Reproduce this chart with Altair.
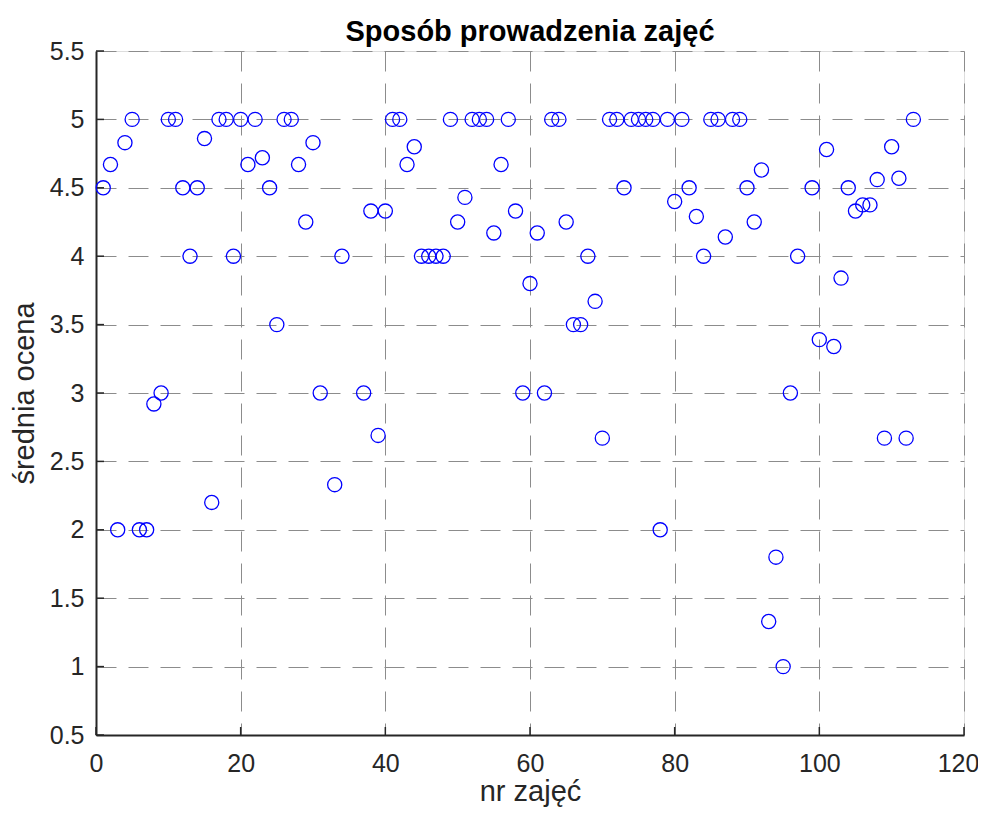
import altair as alt
import pandas as pd

# lecture number (nr zajęć)
nr = [1, 2, 3, 4, 5, 6, 7, 8, 9, 10, 11, 12, 13, 14, 15, 16, 17, 18, 19, 20,
      21, 22, 23, 24, 25, 26, 27, 28, 29, 30, 31, 33, 34, 37, 38, 39, 40, 41, 42, 43,
      44, 45, 46, 47, 48, 49, 50, 51, 52, 53, 54, 55, 56, 57, 58, 59, 60, 61, 62, 63,
      64, 65, 66, 67, 68, 69, 70, 71, 72, 73, 74, 75, 76, 77, 78, 79, 80, 81, 82, 83,
      84, 85, 86, 87, 88, 89, 90, 91, 92, 93, 94, 95, 96, 97, 99, 100, 101, 102, 103, 104,
      105, 106, 107, 108, 109, 110, 111, 112, 113]
# average grade (średnia ocena)
ocena = [4.5, 4.67, 2.0, 4.83, 5, 2, 2, 2.92, 3, 5, 5, 4.5, 4, 4.5, 4.86, 2.2, 5, 5, 4, 5,
         4.67, 5, 4.72, 4.5, 3.5, 5, 5, 4.67, 4.25, 4.83, 3, 2.33, 4, 3, 4.33, 2.69, 4.33, 5, 5, 4.67,
         4.8, 4, 4, 4, 4, 5, 4.25, 4.43, 5, 5, 5, 4.17, 4.67, 5, 4.33, 3, 3.8, 4.17, 3, 5,
         5, 4.25, 3.5, 3.5, 4, 3.67, 2.67, 5, 5, 4.5, 5, 5, 5, 5, 2, 5, 4.4, 5, 4.5, 4.29,
         4, 5, 5, 4.14, 5, 5, 4.5, 4.25, 4.63, 1.33, 1.8, 1, 3, 4, 4.5, 3.39, 4.78, 3.34, 3.84, 4.5,
         4.33, 4.375, 4.375, 4.56, 2.67, 4.8, 4.57, 2.67, 5]

x_ticks = [0, 20, 40, 60, 80, 100, 120]
y_ticks = [0.5, 1, 1.5, 2, 2.5, 3, 3.5, 4, 4.5, 5, 5.5]
title_text = ["Sposób prowadzenia zajęć"]

df = pd.DataFrame({"nr": nr, "ocena": ocena})
dfy = pd.DataFrame({"yt": y_ticks})
dfx = pd.DataFrame({"xt": x_ticks})
dft = pd.DataFrame({"t": title_text})

FONT = "Liberation Sans"
AXIS_COL = "#262626"
GRID_COL = "#8c8c8c"

xscale = alt.Scale(domain=[0, 120], nice=False, zero=False)
yscale = alt.Scale(domain=[0.5, 5.5], nice=False, zero=False)

xaxis = alt.Axis(
    values=x_ticks, title="nr zajęć", grid=True, gridColor=GRID_COL, gridDash=[20, 12],
    gridWidth=1, domainColor=AXIS_COL, domainWidth=2, ticks=False, labelFont=FONT,
    labelFontSize=25, labelColor=AXIS_COL, labelPadding=16, labelBaseline="top",
    labelOffset={"condition": {"test": "datum.value === 120", "value": -6}, "value": 0},
    titleFont=FONT, titleFontSize=29, titleFontWeight="normal", titleColor=AXIS_COL,
    titleBaseline="alphabetic", titleY=65, titleX=434, labelFlush=False,
)
yaxis = alt.Axis(
    values=y_ticks, title="średnia ocena", grid=True, gridColor=GRID_COL, gridDash=[20, 12],
    gridWidth=1, domainColor=AXIS_COL, domainWidth=2, ticks=False, labelFont=FONT,
    labelFontSize=25, labelColor=AXIS_COL, labelPadding=12, format=".2~f",
    titleFont=FONT, titleFontSize=29, titleFontWeight="normal", titleColor=AXIS_COL,
    titleAngle=-90, titleBaseline="alphabetic", titleAlign="center", titleX=-63, titleY=342,
    labelFlush=False,
)

points = alt.Chart(df).mark_point(
    shape="circle", filled=False, size=200, strokeWidth=1.3, color="#0000ff", opacity=1
).encode(
    x=alt.X("nr:Q", scale=xscale, axis=xaxis),
    y=alt.Y("ocena:Q", scale=yscale, axis=yaxis),
)

ytick_marks = alt.Chart(dfy).mark_rule(color=AXIS_COL, strokeWidth=1.5).encode(
    y=alt.Y("yt:Q", scale=yscale, axis=yaxis),
    x=alt.value(0),
    x2=alt.value(8),
)
xtick_marks = alt.Chart(dfx).mark_rule(color=AXIS_COL, strokeWidth=1.5).encode(
    x=alt.X("xt:Q", scale=xscale, axis=xaxis),
    y=alt.value(684),
    y2=alt.value(676),
)

title_mark = alt.Chart(dft).mark_text(
    font=FONT, fontSize=29, fontWeight="bold", color="#000000",
    align="center", baseline="alphabetic",
).encode(text="t:N", x=alt.value(434), y=alt.value(-10))

chart = alt.layer(ytick_marks, xtick_marks, points, title_mark).properties(
    width=868,
    height=684,
    padding={"left": 88, "top": 43, "right": 14, "bottom": 72},
    autosize=alt.AutoSizeParams(type="none"),
).configure_view(stroke=None).configure(background="white")

chart.save("out.html", embed_options={"renderer": "svg", "actions": False})
